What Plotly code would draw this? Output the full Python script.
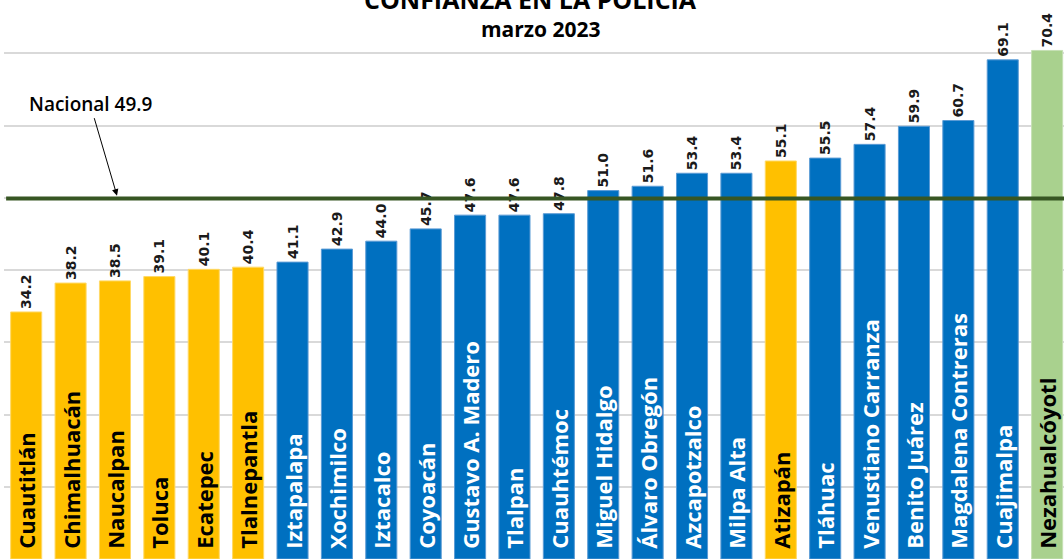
import plotly.graph_objects as go

categories = ["Cuautitlán", "Chimalhuacán", "Naucalpan", "Toluca", "Ecatepec", "Tlalnepantla",
              "Iztapalapa", "Xochimilco", "Iztacalco", "Coyoacán", "Gustavo A. Madero", "Tlalpan",
              "Cuauhtémoc", "Miguel Hidalgo", "Álvaro Obregón", "Azcapotzalco", "Milpa Alta",
              "Atizapán", "Tláhuac", "Venustiano Carranza", "Benito Juárez", "Magdalena Contreras",
              "Cuajimalpa", "Nezahualcóyotl"]
values = [34.2, 38.2, 38.5, 39.1, 40.1, 40.4, 41.1, 42.9, 44.0, 45.7, 47.6, 47.6, 47.8,
          51.0, 51.6, 53.4, 53.4, 55.1, 55.5, 57.4, 59.9, 60.7, 69.1, 70.4]
groups = ["edomex"] * 6 + ["cdmx"] * 11 + ["edomex"] + ["cdmx"] * 5 + ["neza"]
nacional = 49.9

fill = {"edomex": "#FFC000", "cdmx": "#0070C0", "neza": "#A9D18E"}
edge = {"edomex": "#FFD966", "cdmx": "#5B9BD5", "neza": "#C5E0B4"}
label_color = {"edomex": "#000000", "cdmx": "#FFFFFF", "neza": "#000000"}
label_lift = 1.0  # lifts the in-bar names slightly above the bar base

fig = go.Figure()
# bars with value labels above
fig.add_trace(go.Bar(
    x=categories, y=values,
    marker=dict(color=[fill[g] for g in groups],
                line=dict(color=[edge[g] for g in groups], width=1)),
    text=[f"{v:.1f}" for v in values], textposition="outside", textangle=-90,
    constraintext="none",
    textfont=dict(family="DejaVu Sans", size=14, color="#1a1a1a", weight="bold"),
    cliponaxis=False, width=0.7, showlegend=False, hoverinfo="skip",
))
# transparent overlay carrying category names inside the bars
fig.add_trace(go.Bar(
    x=categories, y=[v - label_lift for v in values], base=[label_lift] * len(values),
    marker=dict(color="rgba(0,0,0,0)", line=dict(width=0)),
    text=categories, textposition="inside", insidetextanchor="start", textangle=-90,
    constraintext="none",
    insidetextfont=dict(family="Open Sans", size=22, color=[label_color[g] for g in groups],
                        weight="bold"),
    width=0.7, showlegend=False, hoverinfo="skip",
))

fig.add_shape(type="line", xref="paper", yref="y", x0=0.002, x1=1, y0=nacional, y1=nacional,
              line=dict(color="#375623", width=4), layer="above")

fig.add_annotation(xref="paper", yref="y", x=(117 - 4) / 1060, y=nacional + 0.4,
                   text="Nacional 49.9", showarrow=True, arrowhead=2, arrowsize=1.3,
                   arrowwidth=1, arrowcolor="#000000", ax=-27, ay=-92,
                   font=dict(family="Open Sans", size=19, color="#000000", weight=600))

fig.add_annotation(xref="paper", yref="paper", x=0.497, y=1, yshift=11, yanchor="middle",
                   text="CONFIANZA EN LA POLICÍA", showarrow=False,
                   font=dict(family="Open Sans", size=25, color="#000000", weight="bold"))
fig.add_annotation(xref="paper", yref="paper", x=0.507, y=1, yshift=-19, yanchor="middle",
                   text="marzo 2023", showarrow=False,
                   font=dict(family="Open Sans", size=21, color="#000000", weight="bold"))

fig.update_layout(
    width=1064, height=559,
    margin=dict(l=4, r=0, t=10, b=0),
    plot_bgcolor="white", paper_bgcolor="white",
    barmode="overlay",
    xaxis=dict(range=[-0.5, 23.38], showticklabels=False, showgrid=False, zeroline=False,
               showline=False, ticks=""),
    yaxis=dict(range=[0, 76], dtick=10, showticklabels=False, showgrid=True,
               gridcolor="#D9D9D9", gridwidth=1.5, zeroline=False, showline=False, ticks=""),
)

fig.write_html("out.html", config={"displayModeBar": False},
               post_script="document.body.style.margin='0';")
